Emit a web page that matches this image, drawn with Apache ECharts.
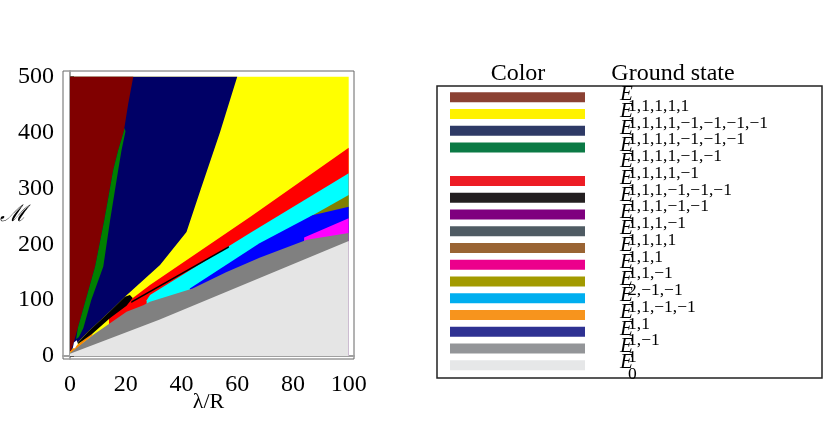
<!DOCTYPE html>
<html><head><meta charset="utf-8">
<script src="https://cdn.jsdelivr.net/npm/echarts@6/dist/echarts.min.js"></script>
<style>html,body{margin:0;padding:0;background:#fff}#c{width:830px;height:443px}</style>
</head><body><div id="c"></div>
<script>
// axis ticks
const xTicks = [0, 20, 40, 60, 80, 100];
const yTicks = [0, 100, 200, 300, 400, 500];

// phase regions, vertices as [λ/R, M], painted in order
const yellowRegion = [[0,0],[0,500],[100,500],[100,0]];
const redRegion = [[14,70],[21.5,100],[28.7,127],[65,250],[100,373],[100,0],[14,0]];
const cyanRegion = [[27.5,100],[28.7,109],[64.6,220],[100,327],[100,0],[27.5,0]];
const oliveRegion = [[86,249],[100,288],[100,0],[86,0]];
const blueRegion = [[43,121],[68,202],[87,252],[100,267],[100,0],[43,0]];
const magentaRegion = [[84,212],[100,246.5],[100,0],[84,0]];
const grayRegion = [[0,6],[8.4,38],[20.3,79],[26.3,91],[28.7,97],[44,121],[56,150],[68,176],[85,208],[100,220],[100,0],[0,0]];
const lightGrayRegion = [[0,4],[32,65],[100,206],[100,0],[0,0]];
const orangeStrip = [[0.2,6],[8,37],[8,41],[0.2,10]];
const navyRegion = [[0,6],[0,500],[60,500],[53.8,400],[47,300],[41.8,222],[32.3,163],[19.7,106],[14.4,80],[6.6,44],[2,20],[0,8]];
const maroonRegion = [[0,8],[0,500],[22.7,500],[20.9,452],[19.3,402],[17.3,369],[15.5,333],[12.3,243.5],[9,160],[5.6,100],[2.8,50],[1.2,22],[0.3,10]];
const greenRegion = [[19.6,408],[19.9,402],[18.5,369],[17.3,333],[14.4,243.5],[11.95,160],[7.6,100],[4.8,50],[3.2,34],[2.2,30],[2.8,50],[5.6,100],[9,160],[12.3,243.5],[15.5,333],[17.3,369],[19.3,402]];
const blackWedge = [[2.5,22],[6.6,44],[14.4,80],[19.7,106],[21.5,109],[22.5,104],[20.3,90],[14.4,68],[8,40],[3,22]];
const blackLine = [[22,98],[57,197],[57,194],[22,95]];
const whiteBits = [[1,14],[1.4,24],[2.4,28],[2.8,22],[1.8,14]];

const regions = [yellowRegion, redRegion, cyanRegion, oliveRegion, blueRegion, magentaRegion,
  grayRegion, lightGrayRegion, orangeStrip, navyRegion, maroonRegion, greenRegion,
  blackWedge, blackLine, whiteBits];
const regionColors = ['#ffff00', '#ff0000', '#00ffff', '#808000', '#0000ff', '#ff00ff',
  '#808080', '#e5e5e5', '#ff8000', '#000066', '#800000', '#008000',
  '#000000', '#000000', '#ffffff'];

// legend table
const legendColors = ['#8b4133', '#fff200', '#2e3a66', '#0b7a45', null, '#ed1c24', '#231f20',
  '#7f007f', '#4f5b63', '#9a6433', '#ec008c', '#a29a00', '#00aeef', '#f7941d', '#2e3192',
  '#939598', '#e6e7e8'];
const legendSubs = ['1,1,1,1,1', '1,1,1,1,−1,−1,−1,−1', '1,1,1,1,−1,−1,−1', '1,1,1,1,−1,−1',
  '1,1,1,1,−1', '1,1,1,−1,−1,−1', '1,1,1,−1,−1', '1,1,1,−1', '1,1,1,1', '1,1,1', '1,1,−1',
  '2,−1,−1', '1,1,−1,−1', '1,1', '1,−1', '1', '0'];

const SERIF = '"Liberation Serif", "DejaVu Serif", serif';
const chart = echarts.init(document.getElementById('c'), null, {renderer: 'canvas'});

const graphics = [];
graphics.push({type: 'rect', shape: {x: 437, y: 86, width: 385, height: 292},
  style: {fill: 'none', stroke: '#222', lineWidth: 1.5}, silent: true});
graphics.push({type: 'text', x: 518, y: 74, style: {text: 'Color', font: '24px ' + SERIF,
  fill: '#000', align: 'center', verticalAlign: 'middle'}});
graphics.push({type: 'text', x: 673, y: 74, style: {text: 'Ground state', font: '24px ' + SERIF,
  fill: '#000', align: 'center', verticalAlign: 'middle'}});
legendSubs.forEach((s, i) => {
  const cy = 97.3 + 16.75 * i;
  if (legendColors[i]) {
    graphics.push({type: 'rect', shape: {x: 450, y: cy - 5, width: 135, height: 10},
      style: {fill: legendColors[i]}, silent: true});
  }
  graphics.push({type: 'text', x: 620, y: cy - 2.5, style: {text: 'E',
    font: 'italic 21px ' + SERIF, fill: '#000', align: 'left', verticalAlign: 'middle'}});
  graphics.push({type: 'text', x: 628, y: cy + 9, style: {text: s,
    font: '17.5px ' + SERIF, fill: '#000', align: 'left', verticalAlign: 'middle'}});
});

chart.setOption({
  animation: false,
  backgroundColor: '#fff',
  grid: {left: 63, top: 71, width: 291, height: 288, show: true, borderColor: '#666',
    borderWidth: 1, backgroundColor: 'transparent', containLabel: false, outerBoundsMode: 'none'},
  xAxis: {type: 'value', min: (63 - 70) / 2.787, max: (354 - 70) / 2.787,
    name: 'λ/R', nameLocation: 'middle', nameGap: 32, nameMoveOverlap: false,
    nameTextStyle: {fontFamily: SERIF, fontSize: 22, color: '#000'},
    axisLine: {show: true, lineStyle: {color: '#a0a0a0', width: 2}},
    axisTick: {show: true, inside: true, length: 4, customValues: xTicks,
      lineStyle: {color: '#555', width: 1}},
    axisLabel: {show: true, customValues: xTicks, margin: 14, fontFamily: SERIF, fontSize: 24,
      color: '#000'},
    splitLine: {show: false}},
  yAxis: {type: 'value', min: (356 - 359) / 0.5586, max: (356 - 71) / 0.5586,
    name: 'ℳ', nameLocation: 'middle', nameGap: 50, nameRotate: 0, nameMoveOverlap: false,
    nameTextStyle: {fontFamily: SERIF, fontSize: 23, color: '#000', fontStyle: 'italic',
      align: 'center', verticalAlign: 'middle', padding: [8, 0, 0, 0]},
    axisLine: {show: true, lineStyle: {color: '#a0a0a0', width: 2}},
    axisTick: {show: true, inside: true, length: 4, customValues: yTicks,
      lineStyle: {color: '#555', width: 1}},
    axisLabel: {show: true, customValues: yTicks, margin: 9, fontFamily: SERIF, fontSize: 24,
      color: '#000'},
    splitLine: {show: false}},
  series: [{
    type: 'custom', coordinateSystem: 'cartesian2d', clip: true, silent: true,
    data: regions.map((r, i) => [i]),
    encode: {x: 0, y: 0},
    renderItem: function (params, api) {
      const i = params.dataIndex;
      const pts = regions[i].map(p => api.coord(p));
      return {type: 'polygon', shape: {points: pts}, style: {fill: regionColors[i]}, silent: true};
    },
    z: 1
  }],
  graphic: graphics
});
</script></body></html>
